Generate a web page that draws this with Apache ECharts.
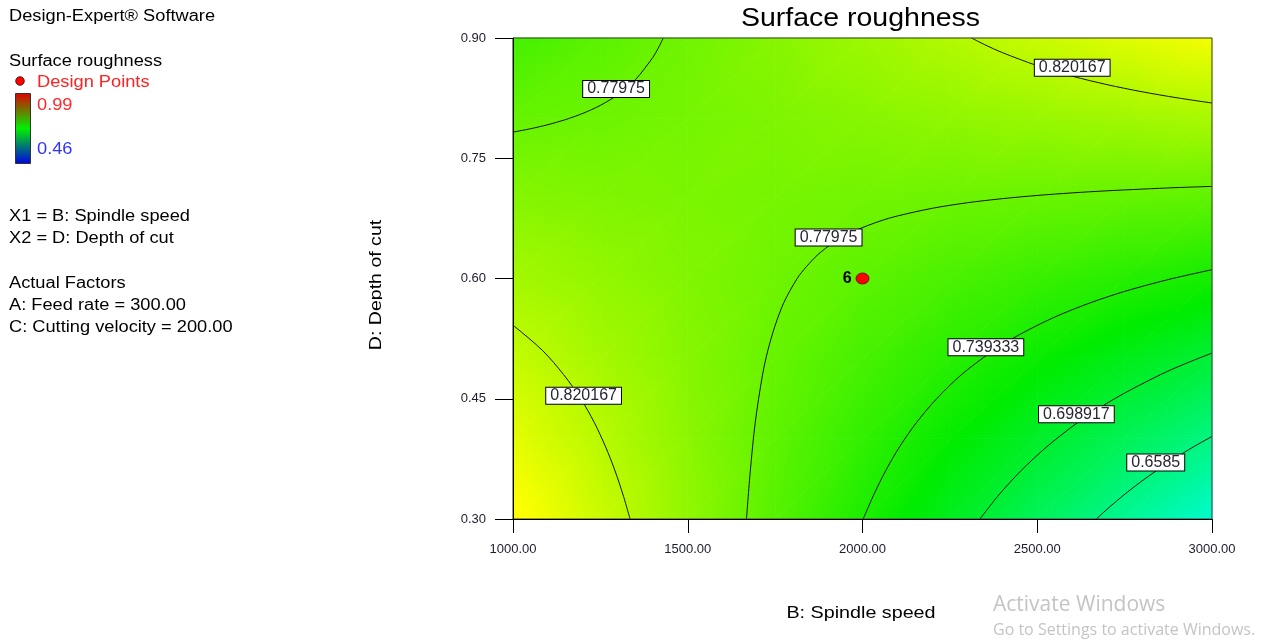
<!DOCTYPE html>
<html>
<head>
<meta charset="utf-8">
<script src="https://cdn.jsdelivr.net/npm/echarts@6/dist/echarts.min.js"></script>
<style>
  html, body { margin: 0; padding: 0; background: #ffffff; }
  #chart { width: 1266px; height: 643px; }
</style>
</head>
<body>
<div id="chart"></div>
<script>
// ---- Response grid: B (spindle speed) x D (depth of cut) ----
const spindleSpeeds = [1000, 1250, 1500, 1750, 2000, 2250, 2500, 2750, 3000];
const depthsOfCut = [0.30, 0.40, 0.50, 0.60, 0.70, 0.80, 0.90];

// Predicted surface roughness, one row per depth of cut (left to right in spindle speed)
const roughnessAt030 = [0.8607, 0.8304, 0.8001, 0.7699, 0.7396, 0.7093, 0.6790, 0.6487, 0.6185];
const roughnessAt040 = [0.8439, 0.8206, 0.7973, 0.7739, 0.7506, 0.7273, 0.7040, 0.6807, 0.6573];
const roughnessAt050 = [0.8271, 0.8108, 0.7944, 0.7780, 0.7617, 0.7453, 0.7289, 0.7126, 0.6962];
const roughnessAt060 = [0.8104, 0.8010, 0.7916, 0.7821, 0.7727, 0.7633, 0.7539, 0.7445, 0.7351];
const roughnessAt070 = [0.7936, 0.7911, 0.7887, 0.7862, 0.7838, 0.7813, 0.7789, 0.7764, 0.7739];
const roughnessAt080 = [0.7768, 0.7813, 0.7858, 0.7903, 0.7948, 0.7993, 0.8038, 0.8083, 0.8128];
const roughnessAt090 = [0.7601, 0.7715, 0.7830, 0.7944, 0.8059, 0.8173, 0.8288, 0.8402, 0.8517];
const roughnessRows = [roughnessAt030, roughnessAt040, roughnessAt050, roughnessAt060,
                       roughnessAt070, roughnessAt080, roughnessAt090];

// Colour legend range
const legendRange = [0.46, 0.99];

// ---- Contour lines: [spindle speed, depth of cut] ----
const contour077975Upper = [[1000, 0.7826], [1050, 0.7868], [1100, 0.7919], [1150, 0.7982],
  [1200, 0.8060], [1250, 0.8160], [1300, 0.8293], [1350, 0.8479], [1400, 0.8757],
  [1415, 0.8869], [1430, 0.90]];
const contour077975Middle = [[1668, 0.30], [1679, 0.36], [1693, 0.42], [1714, 0.48],
  [1729, 0.51], [1749, 0.54], [1775, 0.57], [1813, 0.60], [1840, 0.615], [1873, 0.63],
  [1918, 0.645], [1981, 0.66], [2050, 0.6716], [2100, 0.6780], [2200, 0.6876],
  [2300, 0.6945], [2400, 0.6996], [2500, 0.7036], [2600, 0.7068], [2700, 0.7094],
  [2800, 0.7115], [2900, 0.7134], [3000, 0.7149]];
const contour0820167Upper = [[2312, 0.90], [2350, 0.8916], [2400, 0.8818], [2500, 0.8655],
  [2600, 0.8524], [2700, 0.8418], [2800, 0.8329], [2900, 0.8254], [3000, 0.8189]];
const contour0820167Lower = [[1000, 0.5407], [1005, 0.54], [1085, 0.51], [1145, 0.48],
  [1194, 0.45], [1233, 0.42], [1265, 0.39], [1292, 0.36], [1315, 0.33], [1335, 0.30]];
const contour0739333 = [[2002, 0.30], [2032, 0.33], [2066, 0.36], [2106, 0.39],
  [2154, 0.42], [2212, 0.45], [2283, 0.48], [2374, 0.51], [2450, 0.5302],
  [2550, 0.5519], [2650, 0.5694], [2750, 0.5839], [2875, 0.5987], [3000, 0.6110]];
const contour0698917 = [[2336, 0.30], [2390, 0.33], [2453, 0.36], [2527, 0.39],
  [2615, 0.42], [2721, 0.45], [2852, 0.48], [2925, 0.4940], [3000, 0.5070]];
const contour06585 = [[2669, 0.30], [2707, 0.315], [2748, 0.33], [2792, 0.345],
  [2840, 0.36], [2891, 0.375], [2947, 0.39], [3000, 0.4030]];
const contourLines = [contour077975Upper, contour077975Middle, contour0820167Upper,
  contour0820167Lower, contour0739333, contour0698917, contour06585];

// Contour labels: [spindle speed, depth of cut, level]
const contourLabels = [
  [1295, 0.8364, 0.77975],
  [2600, 0.8630, 0.820167],
  [1903, 0.6511, 0.77975],
  [1202, 0.4538, 0.820167],
  [2353, 0.5143, 0.739333],
  [2612, 0.4306, 0.698917],
  [2839, 0.3705, 0.6585]
];

// Design point: [spindle speed, depth of cut, replicate count]
const designPoints = [[2000, 0.60, 6]];

// Legend / factor text
const factorLines = ['X1 = B: Spindle speed', 'X2 = D: Depth of cut'];
const actualFactors = ['A: Feed rate = 300.00', 'C: Cutting velocity = 200.00'];

// ---- Colour scale of the response surface ----
const FONT = '"Liberation Sans", Arial, Helvetica, sans-serif';
const fieldColorStops = [
  [0.46, [0, 0, 255]],
  [0.5925, [0, 255, 255]],
  [0.725, [0, 236, 0]],
  [0.8575, [255, 255, 0]],
  [0.99, [255, 0, 0]]
];

function colorOf(v) {
  const s = fieldColorStops;
  if (v <= s[0][0]) return 'rgb(' + s[0][1].join(',') + ')';
  for (let k = 1; k < s.length; k++) {
    if (v <= s[k][0]) {
      const t = (v - s[k - 1][0]) / (s[k][0] - s[k - 1][0]);
      const a = s[k - 1][1], b = s[k][1];
      return 'rgb(' + [0, 1, 2].map(c => Math.round(a[c] + (b[c] - a[c]) * t)).join(',') + ')';
    }
  }
  return 'rgb(' + s[s.length - 1][1].join(',') + ')';
}

// Gouraud-style triangle: a linear gradient along the value gradient of the triangle
function shadedTriangle(pts, vals) {
  const [p0, p1, p2] = pts;
  const [f0, f1, f2] = vals;
  const ax = p1[0] - p0[0], ay = p1[1] - p0[1];
  const bx = p2[0] - p0[0], by = p2[1] - p0[1];
  const det = ax * by - ay * bx;
  const fmin = Math.min(f0, f1, f2), fmax = Math.max(f0, f1, f2);
  let fill;
  if (Math.abs(det) < 1e-9 || fmax - fmin < 1e-7) {
    fill = colorOf((f0 + f1 + f2) / 3);
  } else {
    const d1 = f1 - f0, d2 = f2 - f0;
    const gx = (d1 * by - ay * d2) / det;
    const gy = (ax * d2 - bx * d1) / det;
    const g2 = gx * gx + gy * gy;
    const sx = p0[0] + gx * (fmin - f0) / g2, sy = p0[1] + gy * (fmin - f0) / g2;
    const ex = p0[0] + gx * (fmax - f0) / g2, ey = p0[1] + gy * (fmax - f0) / g2;
    const stops = [{ offset: 0, color: colorOf(fmin) }];
    fieldColorStops.forEach(st => {
      if (st[0] > fmin && st[0] < fmax) {
        stops.push({ offset: (st[0] - fmin) / (fmax - fmin), color: colorOf(st[0]) });
      }
    });
    stops.push({ offset: 1, color: colorOf(fmax) });
    fill = new echarts.graphic.LinearGradient(sx, sy, ex, ey, stops, true);
  }
  return {
    type: 'polygon',
    shape: { points: [p0, p1, p2] },
    style: { fill: fill, stroke: fill, lineWidth: 0.8 },
    silent: true
  };
}

// One custom-series item per grid cell
const cells = [];
for (let j = 0; j < depthsOfCut.length - 1; j++) {
  for (let i = 0; i < spindleSpeeds.length - 1; i++) {
    cells.push([(spindleSpeeds[i] + spindleSpeeds[i + 1]) / 2,
                (depthsOfCut[j] + depthsOfCut[j + 1]) / 2, i, j]);
  }
}

const chart = echarts.init(document.getElementById('chart'), null, { renderer: 'canvas' });

const contourSeries = contourLines.map(pts => ({
  type: 'line',
  data: pts,
  symbol: 'none',
  smooth: 0.3,
  lineStyle: { color: '#141414', width: 1 },
  z: 3,
  silent: true,
  animation: false
}));

function sideText(text, x, y, fill, size) {
  return {
    type: 'text', x: x, y: y, scaleX: 1.14, z: 10,
    style: { text: text, fontSize: size || 16, fontFamily: FONT, fill: fill || '#000',
             align: 'left', verticalAlign: 'middle', textAlign: 'left', textVerticalAlign: 'middle' }
  };
}

const option = {
  animation: false,
  backgroundColor: '#ffffff',
  grid: { left: 513, right: 54, top: 38, bottom: 124, containLabel: false,
          outerBoundsMode: 'none', show: true, borderColor: '#3a3a3a', borderWidth: 1,
          backgroundColor: 'transparent', z: 6 },
  xAxis: {
    type: 'value', min: 1000, max: 3000, interval: 500, z: 8,
    axisLine: { show: true, onZero: false, lineStyle: { color: '#000', width: 1 } },
    axisTick: { show: true, length: 14, lineStyle: { color: '#000', width: 1 } },
    axisLabel: { formatter: v => v.toFixed(2), fontSize: 13, fontFamily: FONT,
                 color: '#1c1c30', margin: 24 },
    splitLine: { show: false }
  },
  yAxis: {
    type: 'value', min: 0.3, max: 0.9, interval: 0.15, z: 8,
    axisLine: { show: true, onZero: false, lineStyle: { color: '#000', width: 1 } },
    axisTick: { show: true, length: 18, lineStyle: { color: '#000', width: 1 } },
    axisLabel: { formatter: v => v.toFixed(2), fontSize: 13, fontFamily: FONT,
                 color: '#1c1c30', margin: 27 },
    splitLine: { show: false }
  },
  graphic: [
    { type: 'text', x: 860.5, y: 19, scaleX: 1.14, z: 10,
      style: { text: 'Surface roughness', fontSize: 25, fontFamily: FONT, fill: '#000',
               align: 'center', verticalAlign: 'middle', textAlign: 'center', textVerticalAlign: 'middle' } },
    { type: 'text', x: 861, y: 613, scaleX: 1.16, z: 10,
      style: { text: 'B: Spindle speed', fontSize: 17, fontFamily: FONT, fill: '#000',
               align: 'center', verticalAlign: 'middle', textAlign: 'center', textVerticalAlign: 'middle' } },
    { type: 'text', x: 376, y: 285, rotation: Math.PI / 2, scaleX: 1.15, z: 10,
      style: { text: 'D: Depth of cut', fontSize: 17, fontFamily: FONT, fill: '#000',
               align: 'center', verticalAlign: 'middle', textAlign: 'center', textVerticalAlign: 'middle' } },
    // the axis title is cut along its right edge
    { type: 'rect', shape: { x: 382, y: 200, width: 10, height: 170 }, style: { fill: '#ffffff' }, z: 11 },

    // side panel
    sideText('Design-Expert® Software', 9, 17),
    sideText('Surface roughness', 9, 61.5),
    { type: 'circle', shape: { cx: 20, cy: 81, r: 4.3 }, z: 10,
      style: { fill: '#ff0000', stroke: '#400000', lineWidth: 0.8 } },
    sideText('Design Points', 37, 83, '#ff2020'),
    { type: 'rect', shape: { x: 15.5, y: 93.5, width: 15, height: 70 }, z: 10,
      style: {
        fill: new echarts.graphic.LinearGradient(0, 0, 0, 1, [
          { offset: 0, color: '#e00000' },
          { offset: 0.5, color: '#00f000' },
          { offset: 1, color: '#0000e6' }
        ]),
        stroke: '#333333', lineWidth: 1
      } },
    sideText(legendRange[1].toFixed(2), 37, 106, '#ff2a2a'),
    sideText(legendRange[0].toFixed(2), 37, 150, '#3333ff'),
    sideText(factorLines[0], 9, 217),
    sideText(factorLines[1], 9, 239),
    sideText('Actual Factors', 9, 283.5),
    sideText(actualFactors[0], 9, 306),
    sideText(actualFactors[1], 9, 328),

    // system watermark
    { type: 'text', x: 993, y: 605, z: 10,
      style: { text: 'Activate Windows', fontSize: 21, fontFamily: '"Open Sans", "Noto Sans", sans-serif',
               fill: '#c4c4c4', align: 'left', verticalAlign: 'middle', textAlign: 'left', textVerticalAlign: 'middle' } },
    { type: 'text', x: 993, y: 630, z: 10,
      style: { text: 'Go to Settings to activate Windows.', fontSize: 16, fontFamily: '"Open Sans", "Noto Sans", sans-serif',
               fill: '#c4c4c4', align: 'left', verticalAlign: 'middle', textAlign: 'left', textVerticalAlign: 'middle' } }
  ],
  series: [
    {
      type: 'custom',
      data: cells,
      z: 2,
      silent: true,
      animation: false,
      encode: { x: 0, y: 1 },
      renderItem: function (params, api) {
        const i = api.value(2), j = api.value(3);
        const p00 = api.coord([spindleSpeeds[i], depthsOfCut[j]]);
        const p10 = api.coord([spindleSpeeds[i + 1], depthsOfCut[j]]);
        const p01 = api.coord([spindleSpeeds[i], depthsOfCut[j + 1]]);
        const p11 = api.coord([spindleSpeeds[i + 1], depthsOfCut[j + 1]]);
        const v00 = roughnessRows[j][i], v10 = roughnessRows[j][i + 1];
        const v01 = roughnessRows[j + 1][i], v11 = roughnessRows[j + 1][i + 1];
        return {
          type: 'group',
          children: [
            shadedTriangle([p00, p10, p11], [v00, v10, v11]),
            shadedTriangle([p00, p11, p01], [v00, v11, v01])
          ]
        };
      }
    },
    ...contourSeries,
    {
      type: 'scatter',
      data: contourLabels.map(l => ({ value: [l[0], l[1]], name: String(l[2]) })),
      symbolSize: 1,
      itemStyle: { color: 'transparent', opacity: 1 },
      z: 4,
      silent: true,
      animation: false,
      labelLayout: { hideOverlap: false },
      label: {
        show: true, position: 'inside', formatter: p => p.name,
        fontSize: 16, fontFamily: FONT, color: '#262634',
        backgroundColor: '#ffffff', borderColor: '#000000', borderWidth: 1,
        padding: [1, 4, 0, 4], lineHeight: 15
      }
    },
    {
      type: 'scatter',
      data: designPoints.map(p => ({ value: [p[0], p[1]], name: String(p[2]) })),
      symbol: 'circle',
      symbolSize: [13, 11],
      itemStyle: { color: '#ff0000', borderColor: '#5a0000', borderWidth: 0.8, opacity: 1 },
      z: 5,
      silent: true,
      animation: false,
      label: {
        show: true, position: 'left', distance: 4, formatter: p => p.name,
        fontSize: 16, fontWeight: 'bold', fontFamily: FONT, color: '#000'
      }
    }
  ]
};

chart.setOption(option);
</script>
</body>
</html>
